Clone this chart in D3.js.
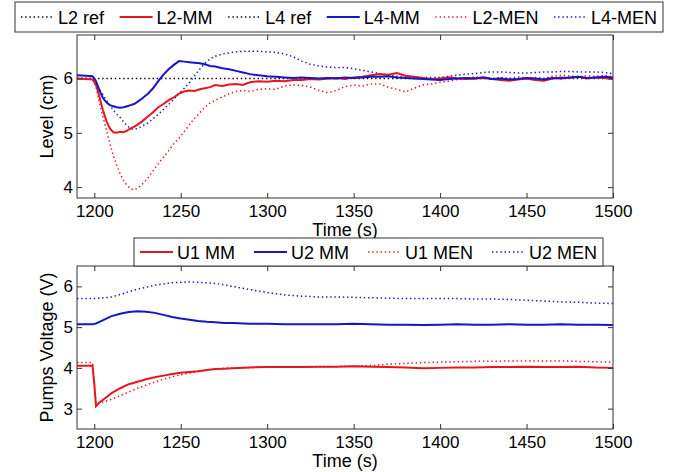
<!DOCTYPE html>
<html>
<head>
<meta charset="utf-8">
<script src="https://cdn.jsdelivr.net/npm/d3@7"></script>
<style>
  body { margin: 0; background: #fff; }
  svg text { font-family: "Liberation Sans", Arial, sans-serif; font-size: 18px; fill: #000; }
  svg .tick text { font-size: 17px; }
</style>
</head>
<body>
<div id="chart"></div>
<script>
// --- data ---
const xTicks = [1200, 1250, 1300, 1350, 1400, 1450, 1500];
const levelTicks = [4, 5, 6];
const voltTicks = [3, 4, 5, 6];

const refTime = [1190, 1500];
const refLevel = [6, 6];

const timeTop = [1190,1195,1199,1201,1203, 1205,1207,1209,1211,1213, 1215,1217,1219,1221,1223,
  1225,1228,1231,1234,1237, 1240,1243,1246,1249,1252, 1255,1258,1261,1264,1267,
  1270,1274,1278,1282,1286, 1290,1295,1300,1305,1310, 1315,1320,1325,1330,1335,
  1340,1345,1350,1355,1360, 1365,1370,1375,1380,1385, 1390,1395,1400,1405,1410,
  1415,1420,1425,1430,1435, 1440,1445,1450,1455,1460, 1465,1470,1475,1480,1485, 1490,1495,1500];

const l2MM = [6.00,5.99,5.98,5.88,5.66, 5.42,5.22,5.08,5.01,5.00, 5.02,5.01,5.04,5.08,5.11,
  5.15,5.22,5.30,5.38,5.47, 5.53,5.60,5.65,5.72,5.76, 5.78,5.77,5.80,5.82,5.84,
  5.88,5.86,5.89,5.90,5.88, 5.93,5.95,5.94,5.96,5.95, 5.97,5.97,5.99,5.98,6.00,
  6.01,5.99,6.02,6.03,6.06, 6.08,6.07,6.10,6.05,6.03, 6.01,5.99,6.00,6.02,6.00,
  5.99,6.00,6.01,5.99,5.97, 5.96,5.98,6.00,5.97,5.96, 6.00,6.02,6.01,6.03,6.00, 6.02,6.01,5.99];

const l4MM = [6.06,6.05,6.04,5.95,5.78, 5.64,5.56,5.51,5.49,5.47, 5.46,5.47,5.49,5.51,5.53,
  5.57,5.64,5.72,5.82,5.95, 6.07,6.17,6.25,6.32,6.31, 6.30,6.29,6.28,6.26,6.23,
  6.22,6.19,6.17,6.14,6.11, 6.08,6.06,6.04,6.03,6.02, 6.01,6.02,6.01,6.00,6.01,
  6.00,6.02,6.01,6.02,6.03, 6.03,6.04,6.02,6.01,6.00, 5.99,5.98,5.97,5.99,6.00,
  6.01,6.00,6.02,5.99,6.00, 5.98,5.99,6.01,6.00,5.98, 6.01,6.00,6.02,6.03,6.01, 6.02,6.03,6.02];

const l2MEN = [6.00,6.00,6.00,5.85,5.55, 5.30,5.05,4.80,4.58,4.40, 4.24,4.12,4.03,3.97,3.95,
  3.98,4.06,4.17,4.30,4.43, 4.55,4.67,4.80,4.90,5.02, 5.15,5.27,5.37,5.47,5.55,
  5.60,5.66,5.72,5.76,5.78, 5.76,5.80,5.81,5.80,5.86, 5.88,5.87,5.84,5.78,5.74,
  5.78,5.85,5.88,5.86,5.90, 5.90,5.84,5.80,5.75,5.82, 5.88,5.90,5.93,5.95,5.98,
  6.00,6.03,6.01,5.99,6.02, 6.00,6.03,6.01,6.02,6.00, 6.04,6.06,6.05,6.03,6.05, 6.04,6.06,6.03];

const l4MEN = [6.00,6.00,6.00,5.92,5.80, 5.70,5.60,5.50,5.42,5.34, 5.28,5.20,5.13,5.08,5.06,
  5.08,5.13,5.18,5.26,5.34, 5.43,5.52,5.62,5.72,5.82, 5.92,6.05,6.17,6.28,6.36,
  6.41,6.45,6.47,6.49,6.50, 6.50,6.50,6.49,6.48,6.45, 6.40,6.32,6.26,6.23,6.21,
  6.20,6.20,6.18,6.15,6.12, 6.09,6.06,6.04,6.03,6.02, 6.02,6.02,6.02,6.04,6.06,
  6.08,6.09,6.11,6.12,6.12, 6.11,6.10,6.10,6.11,6.12, 6.12,6.13,6.13,6.12,6.12, 6.12,6.11,6.09];

const timeBot = [1190,1195,1199,1200,1201, 1203,1206,1210,1215,1220, 1225,1230,1235,1240,1245,
  1250,1255,1260,1265,1270, 1275,1280,1290,1300,1310, 1320,1330,1340,1350,1360,
  1370,1380,1390,1400,1410, 1420,1430,1440,1450,1460, 1470,1480,1490,1500];

const u1MM = [4.05,4.05,4.05,3.60,3.06, 3.15,3.25,3.38,3.50,3.60, 3.66,3.72,3.77,3.81,3.85,
  3.88,3.90,3.92,3.95,3.97, 3.98,3.99,4.01,4.02,4.02, 4.02,4.03,4.03,4.04,4.03,
  4.02,4.01,3.99,4.00,4.01, 4.01,4.02,4.02,4.03,4.02, 4.02,4.03,4.01,4.00];

const u2MM = [5.07,5.07,5.07,5.08,5.09, 5.13,5.19,5.27,5.33,5.37, 5.39,5.38,5.35,5.30,5.25,
  5.21,5.18,5.15,5.13,5.12, 5.10,5.10,5.08,5.08,5.07, 5.07,5.07,5.07,5.08,5.07,
  5.06,5.06,5.05,5.06,5.07, 5.06,5.06,5.07,5.06,5.06, 5.07,5.06,5.06,5.05];

const u1MEN = [4.13,4.13,4.13,3.60,3.12, 3.14,3.17,3.23,3.32,3.41, 3.50,3.58,3.65,3.72,3.78,
  3.83,3.87,3.91,3.94,3.97, 3.99,4.00,4.01,4.02,4.02, 4.02,4.02,4.03,4.04,4.06,
  4.09,4.11,4.13,4.14,4.15, 4.16,4.16,4.17,4.17,4.17, 4.17,4.16,4.15,4.14];

const u2MEN = [5.70,5.70,5.70,5.70,5.70, 5.71,5.72,5.74,5.80,5.87, 5.93,5.98,6.03,6.06,6.09,
  6.10,6.11,6.10,6.09,6.07, 6.04,6.00,5.92,5.85,5.79, 5.76,5.74,5.74,5.73,5.72,
  5.71,5.70,5.70,5.70,5.70, 5.69,5.69,5.68,5.66,5.64, 5.62,5.61,5.59,5.58];

const RED = "#e8161c", BLUE = "#1616c8";
const DOT = "1.4,2.8";

const width = 676, height = 472;
const svg = d3.select("#chart").append("svg")
    .attr("width", width)
    .attr("height", height);

const x = d3.scaleLinear().domain([1190, 1500]).range([77, 613]);

function drawPanel(top, bottom, yDomain, yTicks, yLabel, series) {
    const y = d3.scaleLinear().domain(yDomain).range([bottom, top]);
    const g = svg.append("g");

    const line = d3.line().x(d => x(d[0])).y(d => y(d[1]));
    series.forEach(s => {
        g.append("path")
            .datum(d3.zip(s.t, s.v))
            .attr("d", line)
            .attr("fill", "none")
            .attr("stroke", s.color)
            .attr("stroke-width", s.dotted ? 1.5 : 2)
            .attr("stroke-dasharray", s.dotted ? DOT : null);
    });

    // axes, MATLAB style: ticks inside, box all round
    const tl = 5;
    g.append("g").attr("transform", `translate(0,${bottom})`)
        .call(d3.axisBottom(x).tickValues(xTicks).tickSizeInner(-tl).tickSizeOuter(0)
            .tickPadding(7).tickFormat(d3.format("d")))
        .call(a => a.select(".domain").remove());
    g.append("g").attr("transform", `translate(0,${top})`)
        .call(d3.axisTop(x).tickValues(xTicks).tickSizeInner(-tl).tickSizeOuter(0).tickFormat(""))
        .call(a => a.select(".domain").remove());
    g.append("g").attr("transform", `translate(77,0)`)
        .call(d3.axisLeft(y).tickValues(yTicks).tickSizeInner(-tl).tickSizeOuter(0)
            .tickPadding(4).tickFormat(d3.format("d")))
        .call(a => a.select(".domain").remove());
    g.append("g").attr("transform", `translate(613,0)`)
        .call(d3.axisRight(y).tickValues(yTicks).tickSizeInner(-tl).tickSizeOuter(0).tickFormat(""))
        .call(a => a.select(".domain").remove());
    g.selectAll(".tick line").attr("stroke", "#333");

    g.append("rect")
        .attr("x", 77).attr("y", top)
        .attr("width", 613 - 77).attr("height", bottom - top)
        .attr("fill", "none").attr("stroke", "#333");

    svg.append("text")
        .attr("x", 345).attr("y", bottom + 38)
        .attr("text-anchor", "middle")
        .text("Time (s)");
    svg.append("text")
        .attr("transform", `translate(53,${(top + bottom) / 2}) rotate(-90)`)
        .attr("text-anchor", "middle")
        .text(yLabel);
}

function drawLegend(x0, x1, y0, y1, items) {
    const g = svg.append("g");
    g.append("rect")
        .attr("x", x0).attr("y", y0)
        .attr("width", x1 - x0).attr("height", y1 - y0)
        .attr("fill", "#fff").attr("stroke", "#333");
    const lineLen = 33, gap = 4, pad = 6;
    const texts = items.map(it => g.append("text").text(it.label)
        .attr("y", (y0 + y1) / 2 + 6.5));
    const widths = texts.map(t => t.node().getComputedTextLength());
    const used = d3.sum(widths) + items.length * (lineLen + gap);
    const between = (x1 - x0 - 2 * pad - used) / (items.length - 1);
    let cx = x0 + pad;
    items.forEach((it, i) => {
        const ly = (y0 + y1) / 2;
        g.append("line")
            .attr("x1", cx).attr("x2", cx + lineLen)
            .attr("y1", ly).attr("y2", ly)
            .attr("stroke", it.color)
            .attr("stroke-width", it.dotted ? 1.5 : 2)
            .attr("stroke-dasharray", it.dotted ? DOT : null);
        texts[i].attr("x", cx + lineLen + gap);
        cx += lineLen + gap + widths[i] + between;
    });
}

drawPanel(35, 198, [3.8, 6.8], levelTicks, "Level (cm)", [
    { t: refTime, v: refLevel, color: "#000", dotted: true },
    { t: timeTop, v: l2MEN, color: RED, dotted: true },
    { t: timeTop, v: l4MEN, color: BLUE, dotted: true },
    { t: timeTop, v: l2MM, color: RED },
    { t: timeTop, v: l4MM, color: BLUE }
]);

drawPanel(266, 429, [2.5, 6.5], voltTicks, "Pumps Voltage (V)", [
    { t: timeBot, v: u1MEN, color: RED, dotted: true },
    { t: timeBot, v: u2MEN, color: BLUE, dotted: true },
    { t: timeBot, v: u1MM, color: RED },
    { t: timeBot, v: u2MM, color: BLUE }
]);

drawLegend(15, 663, 2, 32, [
    { label: "L2 ref", color: "#000", dotted: true },
    { label: "L2-MM", color: RED },
    { label: "L4 ref", color: "#000", dotted: true },
    { label: "L4-MM", color: BLUE },
    { label: "L2-MEN", color: RED, dotted: true },
    { label: "L4-MEN", color: BLUE, dotted: true }
]);

drawLegend(134, 603, 238, 266, [
    { label: "U1 MM", color: RED },
    { label: "U2 MM", color: BLUE },
    { label: "U1 MEN", color: RED, dotted: true },
    { label: "U2 MEN", color: BLUE, dotted: true }
]);
</script>
</body>
</html>
